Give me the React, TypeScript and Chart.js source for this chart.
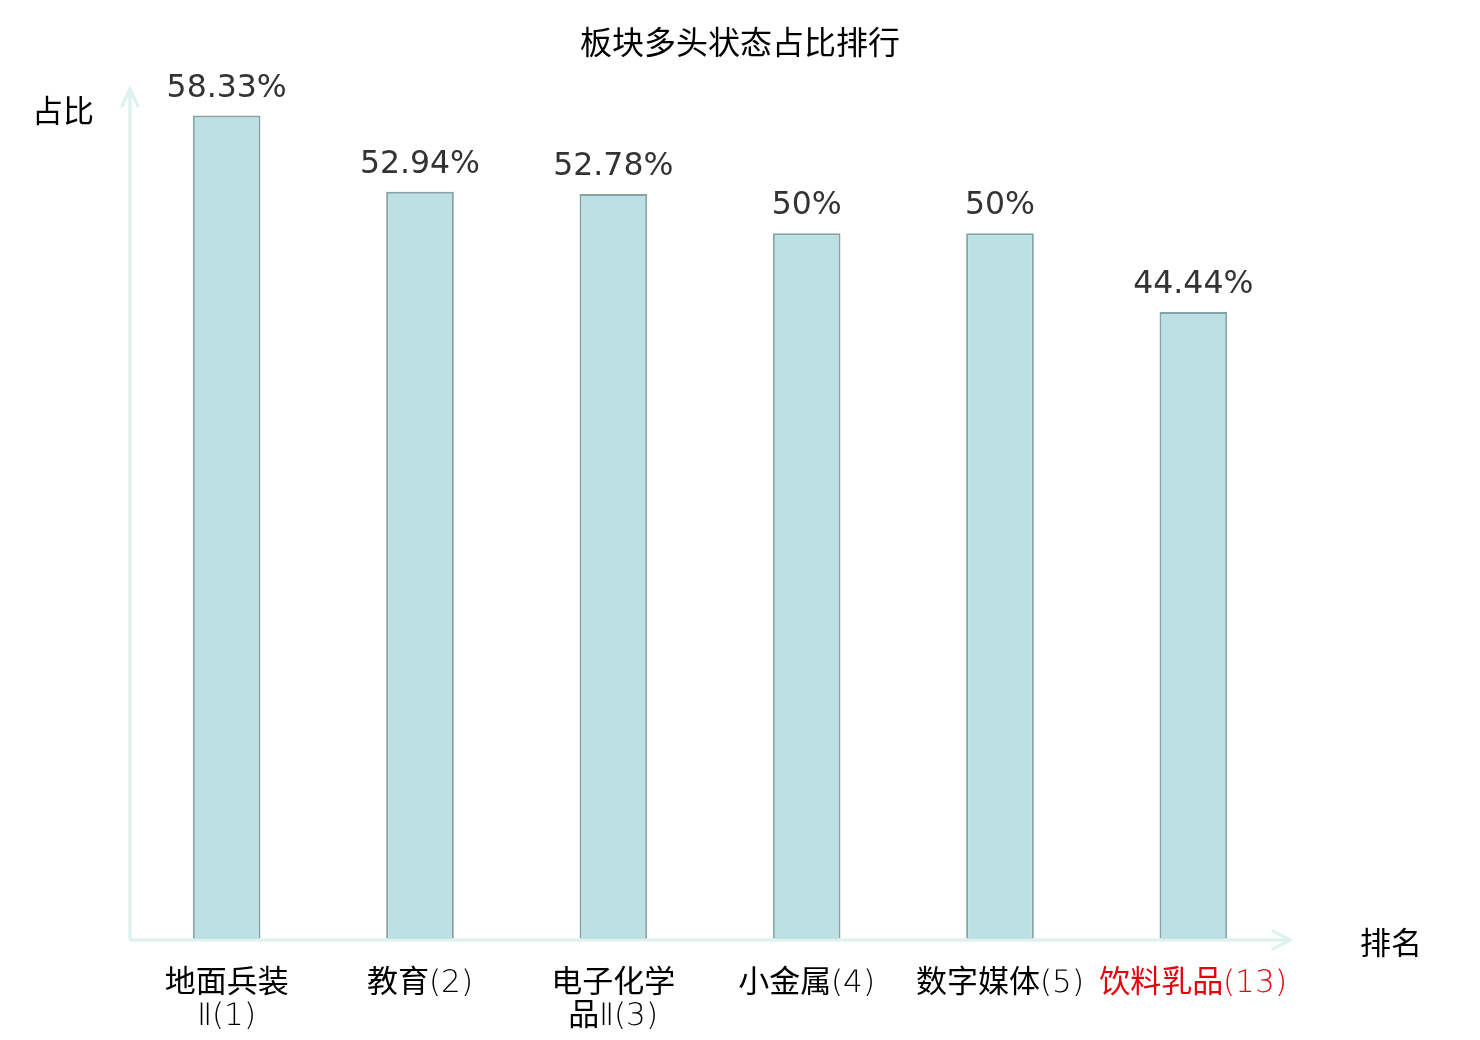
import { useEffect, useRef } from 'react'
import { Chart, registerables } from 'chart.js'
import type { Plugin } from 'chart.js'

Chart.register(...registerables)

const categories = [
  ['地面兵装', 'Ⅱ(1)'],
  ['教育(2)'],
  ['电子化学', '品Ⅱ(3)'],
  ['小金属(4)'],
  ['数字媒体(5)'],
  ['饮料乳品(13)'],
]
const ratios = [58.33, 52.94, 52.78, 50, 50, 44.44]
const valueLabels = ['58.33%', '52.94%', '52.78%', '50%', '50%', '44.44%']
const tickColors = ['#000', '#000', '#000', '#000', '#000', '#e8000b']

const AXIS = '#dff2f0'
const CJK = '"Noto Sans CJK SC", "DejaVu Sans", sans-serif'
// thin latin digits, regular CJK
const TICKFONT = '"TickLatin", "Noto Sans CJK SC", sans-serif'

const FONT_CSS = `
@font-face {
  font-family: 'TickLatin';
  src: local('DejaVu Sans ExtraLight'), local('DejaVuSans-ExtraLight');
  unicode-range: U+0020-007E, U+2160-2188;
}`

const decor: Plugin<'bar'> = {
  id: 'decor',
  afterDatasetsDraw(chart) {
    const { ctx, chartArea: a } = chart
    ctx.save()

    // axes with open arrow heads
    ctx.strokeStyle = AXIS
    ctx.lineWidth = 3.5
    ctx.lineCap = 'butt'
    ctx.beginPath()
    ctx.moveTo(a.left, a.bottom)
    ctx.lineTo(a.left, a.top - 3)
    ctx.moveTo(a.left, a.bottom)
    ctx.lineTo(a.right, a.bottom)
    ctx.stroke()
    ctx.lineCap = 'round'
    ctx.beginPath()
    ctx.moveTo(a.left - 8, a.top + 14)
    ctx.lineTo(a.left, a.top - 3)
    ctx.lineTo(a.left + 8, a.top + 14)
    ctx.moveTo(a.right - 17, a.bottom - 9)
    ctx.lineTo(a.right, a.bottom)
    ctx.lineTo(a.right - 17, a.bottom + 9)
    ctx.stroke()

    // value labels
    const meta = chart.getDatasetMeta(0)
    ctx.fillStyle = '#333'
    ctx.font = '31.5px "DejaVu Sans", sans-serif'
    ctx.textAlign = 'center'
    ctx.textBaseline = 'alphabetic'
    meta.data.forEach((bar, i) => {
      ctx.fillText(valueLabels[i], bar.x, bar.y - 19)
    })

    // title and axis names
    ctx.fillStyle = '#000'
    ctx.textBaseline = 'middle'
    ctx.font = `32px ${CJK}`
    ctx.fillText('板块多头状态占比排行', chart.width / 2, 42)
    ctx.font = `31px ${CJK}`
    ctx.fillText('占比', 63, 110)
    ctx.fillText('排名', 1391, 942)
    ctx.restore()
  },
}

export default function App() {
  const canvasRef = useRef<HTMLCanvasElement>(null)
  const chartRef = useRef<Chart<'bar'> | null>(null)

  useEffect(() => {
    document.body.style.margin = '0'
    const style = document.createElement('style')
    style.textContent = FONT_CSS
    document.head.appendChild(style)
    let cancelled = false

    const build = () => {
      if (cancelled || !canvasRef.current) return
      if (chartRef.current) chartRef.current.destroy()

      chartRef.current = new Chart(canvasRef.current, {
        type: 'bar',
        data: {
          labels: categories,
          datasets: [{
            data: ratios,
            backgroundColor: '#bce0e3',
            borderColor: '#85a4a5',
            borderWidth: 2,
            borderSkipped: false,
            barPercentage: 0.35,
            categoryPercentage: 1,
          }],
        },
        options: {
          responsive: false,
          animation: false,
          layout: { padding: { left: 130, right: 190, top: 92, bottom: 0 } },
          plugins: {
            legend: { display: false },
            tooltip: { enabled: false },
          },
          scales: {
            x: {
              grid: { display: false, drawTicks: false },
              border: { display: false },
              ticks: {
                color: (c) => tickColors[c.index],
                font: { family: TICKFONT, size: 31, lineHeight: 1.06 },
                padding: 28,
                maxRotation: 0,
                autoSkip: false,
              },
              afterFit: (scale) => { scale.height = 100 },
            },
            y: {
              display: false,
              min: 0,
              max: 60,
            },
          },
        },
        plugins: [decor],
      })
    }

    document.fonts.load('31px "TickLatin"', '(13)Ⅱ').then(build, build)

    return () => {
      cancelled = true
      chartRef.current?.destroy()
      chartRef.current = null
      style.remove()
    }
  }, [])

  return (
    <div style={{ position: 'relative', width: 1480, height: 1040 }}>
      <canvas ref={canvasRef} width={1480} height={1040} role="img" aria-label="板块多头状态占比排行 柱状图" />
    </div>
  )
}
